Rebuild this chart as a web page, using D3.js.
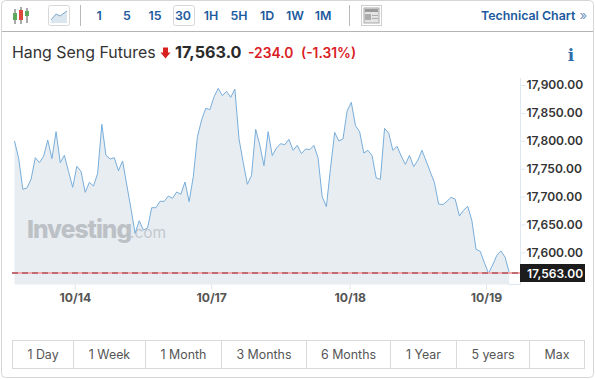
<!DOCTYPE html>
<html>
<head>
<meta charset="utf-8">
<script src="https://cdn.jsdelivr.net/npm/d3@7"></script>
<style>
html, body { margin: 0; padding: 0; background: #fff; }
text { font-family: Inter, Roboto, sans-serif; }
</style>
</head>
<body>
<script>
// values, one per 30 min bar
const prices = [
    17799.6, 17768.5, 17713, 17715.4, 17731.5, 17769.7, 17760.8, 17772.1, 17801.4, 17768,
    17816.3, 17760.8, 17773.9, 17744.7, 17716.6, 17754.2, 17745.3, 17707.6, 17725.5, 17719,
    17741.7, 17829.5, 17773.9, 17767.4, 17769.7, 17746.4, 17763.8, 17720.8, 17678.9, 17634.1,
    17656.8, 17640.1, 17643.7, 17680.1, 17680.1, 17691.5, 17691.5, 17701, 17696.9, 17708.2,
    17704, 17726.1, 17690.9, 17735.7, 17807.4, 17837.3, 17858.2, 17855.8, 17879.1, 17894,
    17880.9, 17888.6, 17877.9, 17892.8, 17803.2, 17761.4, 17722, 17737.5, 17820.5, 17792.4,
    17755.4, 17816.3, 17773.3, 17787.1, 17794.8, 17793, 17802.6, 17782.9, 17791.8, 17776.9,
    17785.3, 17784.1, 17791.8, 17769.7, 17699.8, 17681.9, 17750.6, 17815.1, 17799.6, 17803.2,
    17853.4, 17868.9, 17827.1, 17816.3, 17778.1, 17782.9, 17773.3, 17733.3, 17730.9, 17822.3,
    17813.4, 17782.9, 17790.1, 17772.7, 17757.8, 17773.9, 17753.6, 17765, 17782.9, 17763.8,
    17744.1, 17724.9, 17686.7, 17685.5, 17691.5, 17698.7, 17695.1, 17665.2, 17675.4, 17682.5,
    17656.8, 17605.5, 17601.9, 17581.6, 17562.4, 17577.4, 17594.7, 17602.5, 17591.1, 17563
];
const lastPrice = 17563;
const yTicks = [17600, 17650, 17700, 17750, 17800, 17850, 17900];
const dateTicks = [14.5, 47.3, 80.6, 113.4];
const dateLabels = ["10/14", "10/17", "10/18", "10/19"];
const intervals = ["1", "5", "15", "30", "1H", "5H", "1D", "1W", "1M"];
const ranges = ["1 Day", "1 Week", "1 Month", "3 Months", "6 Months", "1 Year", "5 years", "Max"];

const width = 595;
const height = 379;
const blue = "#1d5a9e";
const red = "#d9201f";

const svg = d3.select("body").append("svg")
    .attr("width", width)
    .attr("height", height)
    .style("display", "block");

// outer card
svg.append("rect")
    .attr("x", 1.5).attr("y", 0.5)
    .attr("width", 592).attr("height", 377)
    .attr("rx", 4)
    .attr("fill", "#fff")
    .attr("stroke", "#d6d6d6");

// toolbar
svg.append("line")
    .attr("x1", 2).attr("x2", 593).attr("y1", 31.5).attr("y2", 31.5)
    .attr("stroke", "#b5b5b5");

[80.5, 349.5].forEach(x => {
    svg.append("line")
        .attr("x1", x).attr("x2", x).attr("y1", 5).attr("y2", 26)
        .attr("stroke", "#b9b9b9");
});

// candle icon
const candles = svg.append("g");
[[15, 13, 20, 9, 24, "#5da85a"], [21, 10, 20, 7, 24, "#e0483e"], [27, 11, 16, 8, 23, "#5da85a"]].forEach(c => {
    candles.append("line")
        .attr("x1", c[0]).attr("x2", c[0]).attr("y1", c[3]).attr("y2", c[4])
        .attr("stroke", "#555");
    candles.append("rect")
        .attr("x", c[0] - 2).attr("y", c[1])
        .attr("width", 4).attr("height", c[2] - c[1])
        .attr("fill", c[5]);
});

// area icon
svg.append("rect")
    .attr("x", 48.5).attr("y", 5.5).attr("width", 21).attr("height", 20).attr("rx", 2)
    .attr("fill", "#fff").attr("stroke", "#d8d8d8");
svg.append("path")
    .attr("d", "M51 20L56 14L60 16L67 11V23H51Z")
    .attr("fill", "#dbe6ef");
svg.append("path")
    .attr("d", "M51 20L56 14L60 16L67 11")
    .attr("fill", "none").attr("stroke", "#7fa9c9");

// selected interval box
svg.append("rect")
    .attr("x", 173.5).attr("y", 5.5).attr("width", 21).attr("height", 20).attr("rx", 2)
    .attr("fill", "#fff").attr("stroke", "#d8d8d8");

const intervalX = d3.scalePoint()
    .domain(intervals)
    .range([99, 323]);

svg.append("g")
    .selectAll("text")
    .data(intervals)
    .join("text")
    .attr("x", d => intervalX(d))
    .attr("y", 20)
    .attr("text-anchor", "middle")
    .attr("font-size", 12.4)
    .attr("font-weight", 600)
    .attr("fill", blue)
    .text(d => d);

// news icon
svg.append("rect").attr("x", 361.5).attr("y", 5.5).attr("width", 20).attr("height", 20).attr("fill", "#fff").attr("stroke", "#cfcfcf");
svg.append("rect").attr("x", 364).attr("y", 8).attr("width", 15).attr("height", 15).attr("fill", "#e4e4e4").attr("stroke", "#a8a8a8");
svg.append("rect").attr("x", 365).attr("y", 9).attr("width", 13).attr("height", 3).attr("fill", "#9a9a9a");
svg.append("rect").attr("x", 365).attr("y", 14).attr("width", 6).attr("height", 6).attr("fill", "#adadad");
[15, 18].forEach(y => svg.append("line").attr("x1", 372).attr("x2", 378).attr("y1", y + .5).attr("y2", y + .5).attr("stroke", "#adadad"));

svg.append("text")
    .attr("x", 481).attr("y", 20)
    .attr("font-size", 12.4).attr("font-weight", 600)
    .attr("fill", blue)
    .text("Technical Chart");
svg.append("text")
    .attr("x", 579.5).attr("y", 20)
    .attr("font-size", 13)
    .attr("fill", "#6f93bd")
    .text("»");

// title row
svg.append("text")
    .attr("x", 12).attr("y", 58)
    .attr("font-size", 15.9)
    .attr("fill", "#333")
    .text("Hang Seng Futures");
svg.append("path")
    .attr("d", "M163 47.5H168V52.5H170.5L165.5 58.5L160.5 52.5H163Z")
    .attr("fill", red);
svg.append("text")
    .attr("x", 175).attr("y", 58)
    .attr("font-size", 16.2).attr("font-weight", 700)
    .attr("fill", "#2a2a2a")
    .text("17,563.0");
svg.append("text")
    .attr("x", 248).attr("y", 58)
    .attr("font-size", 13.8).attr("font-weight", 600)
    .attr("fill", red)
    .text("-234.0");
svg.append("text")
    .attr("x", 301).attr("y", 58)
    .attr("font-size", 13.8).attr("font-weight", 600)
    .attr("fill", red)
    .text("(-1.31%)");
svg.append("text")
    .attr("x", 571).attr("y", 61)
    .attr("text-anchor", "middle")
    .style("font-family", "'DejaVu Serif', serif")
    .attr("font-size", 17).attr("font-weight", 700)
    .attr("fill", "#2f6ea8")
    .text("i");

// scales
const x = d3.scaleLinear()
    .domain([0, prices.length - 1])
    .range([14.5, 509.3]);

const y = d3.scaleLinear()
    .domain([17563, 17900])
    .range([273, 85]);

const plotBottom = 284.5;

const area = d3.area()
    .x((d, i) => x(i))
    .y0(plotBottom)
    .y1(d => y(d));

const line = d3.line()
    .x((d, i) => x(i))
    .y(d => y(d));

svg.append("path")
    .datum(prices)
    .attr("d", area)
    .attr("fill", "#e8edf2");

// watermark
svg.append("text")
    .attr("x", 27).attr("y", 238)
    .attr("font-size", 24.5).attr("font-weight", 800)
    .attr("letter-spacing", -1)
    .attr("fill", "#bcc1c6")
    .text("Investing");
svg.append("text")
    .attr("x", 130).attr("y", 238)
    .attr("font-size", 15.5)
    .attr("fill", "#c3c8cd")
    .text(".com");

svg.append("path")
    .datum(prices)
    .attr("d", line)
    .attr("fill", "none")
    .attr("stroke", "#78aedb")
    .attr("stroke-width", 1);

// last price line, pink under dark dashes
svg.append("line")
    .attr("x1", 12).attr("x2", 520)
    .attr("y1", y(lastPrice)).attr("y2", y(lastPrice))
    .attr("stroke", "#f3a9ae").attr("stroke-width", 2);
svg.append("line")
    .attr("x1", 12).attr("x2", 520)
    .attr("y1", y(lastPrice)).attr("y2", y(lastPrice))
    .attr("stroke", "#8a3038").attr("stroke-width", 1)
    .attr("stroke-dasharray", "6,4");

// x axis
const xAxis = svg.append("g")
    .attr("transform", `translate(0,${plotBottom})`)
    .call(d3.axisBottom(x)
        .tickValues(dateTicks)
        .tickSize(5)
        .tickFormat((d, i) => dateLabels[i]));
xAxis.select(".domain").remove();
xAxis.selectAll("line").attr("stroke", "#dfe5ea");
xAxis.selectAll("text")
    .attr("y", 13)
    .attr("dy", 0)
    .attr("dominant-baseline", "central")
    .attr("font-size", 12.2)
    .attr("font-weight", 700)
    .attr("font-family", "Inter, Roboto, sans-serif")
    .attr("fill", "#555");

// y axis
const yAxis = svg.append("g")
    .attr("transform", "translate(520.5,0)")
    .call(d3.axisRight(y)
        .tickValues(yTicks)
        .tickSize(5)
        .tickPadding(1)
        .tickFormat(d3.format(",.2f")));
yAxis.select(".domain")
    .attr("d", "M0,78V284.5H-12")
    .attr("stroke", "#dfe8f0");
yAxis.selectAll("line").attr("stroke", "#dfe8f0");
yAxis.selectAll("text")
    .attr("font-size", 12)
    .attr("font-weight", 600)
    .attr("font-family", "Inter, Roboto, sans-serif")
    .attr("fill", "#333");

// last price label
svg.append("rect")
    .attr("x", 520).attr("y", y(lastPrice) - 9)
    .attr("width", 65).attr("height", 18)
    .attr("fill", "#1c1c1c");
svg.append("text")
    .attr("x", 527).attr("y", y(lastPrice) + 4.5)
    .attr("font-size", 12).attr("font-weight", 600)
    .attr("fill", "#fff")
    .text(d3.format(",.2f")(lastPrice));

// range buttons, edges follow the label widths
const rangeEdges = [12, 73, 145, 221, 306, 390, 456, 529, 584];
const buttons = svg.append("g");
buttons.selectAll("rect")
    .data(ranges)
    .join("rect")
    .attr("x", (d, i) => rangeEdges[i] + 0.5)
    .attr("y", 340.5)
    .attr("width", (d, i) => rangeEdges[i + 1] - rangeEdges[i])
    .attr("height", 28)
    .attr("fill", "#fff")
    .attr("stroke", "#d9d9d9");
buttons.selectAll("text")
    .data(ranges)
    .join("text")
    .attr("x", (d, i) => (rangeEdges[i] + rangeEdges[i + 1]) / 2 + 0.5)
    .attr("y", 358.5)
    .attr("text-anchor", "middle")
    .attr("font-size", 12.4)
    .attr("fill", "#555")
    .text(d => d);
</script>
</body>
</html>
